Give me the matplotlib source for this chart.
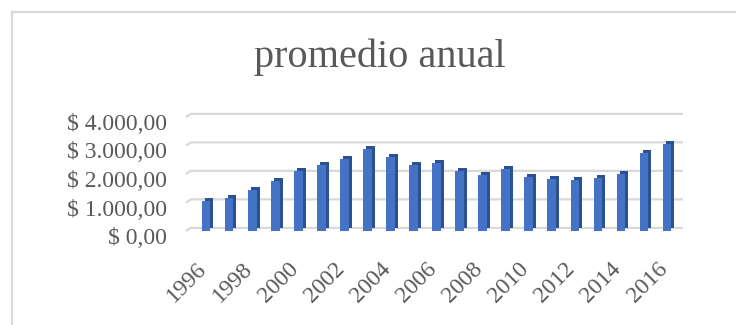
import matplotlib
matplotlib.use("Agg")
import matplotlib.pyplot as plt
import numpy as np
from matplotlib.lines import Line2D
from matplotlib.transforms import offset_copy, blended_transform_factory, ScaledTranslation

# Data
years = list(range(1996, 2017))
promedio = [1060, 1150, 1440, 1760, 2110, 2310, 2510, 2870, 2610, 2320, 2370,
            2090, 1970, 2170, 1890, 1840, 1790, 1860, 2000, 2750, 3050]
y_ticks = [0, 1000, 2000, 3000, 4000]
y_labels = ['$ 0,00', '$ 1.000,00', '$ 2.000,00', '$ 3.000,00', '$ 4.000,00']

plt.rcParams['font.family'] = ['Liberation Serif', 'DejaVu Serif']
gray_text = '#595959'
grid_color = '#d9d9d9'

W, H = 736, 325
fig = plt.figure(figsize=(W / 100, H / 100), dpi=100)
fig.patch.set_facecolor('white')

# chart frame (only top and left edges are visible)
fig.add_artist(Line2D([12 / W, 12 / W], [0, 1 - 12 / H], color=grid_color, lw=1.6))
fig.add_artist(Line2D([12 / W, 1], [1 - 12 / H, 1 - 12 / H], color=grid_color, lw=1.6))

# plot area
ax = fig.add_axes([186 / W, 94 / H, 497 / W, 114 / H])
x = np.arange(len(years))
ax.set_xlim(-0.87, 20.69)
ax.set_ylim(0, 4000)
for s in ax.spines.values():
    s.set_visible(False)

# back-wall gridlines with a short slanted floor edge on the left
rise = 110  # about 3 px in data units
gt = blended_transform_factory(ax.transAxes, ax.transData)
for t in y_ticks:
    ax.plot([0, 0.01, 1], [t, t + rise, t + rise], transform=gt,
            color=grid_color, lw=1.6, clip_on=False, zorder=1,
            solid_capstyle='butt')

# pseudo-3D bars: darker depth face behind, front face on top
depth = offset_copy(ax.transData, fig=fig, x=3, y=3, units='dots')
ax.bar(x, promedio, width=0.38, color='#2c5191', transform=depth, zorder=2)
ax.bar(x, promedio, width=0.38, color='#4472c4', zorder=3)

# y axis
ax.set_yticks(y_ticks)
ax.set_yticklabels(y_labels)
ax.tick_params(axis='y', length=0, pad=13.7, labelsize=17, labelcolor=gray_text)
for lab in ax.get_yticklabels():
    lab.set_transform(lab.get_transform() + ScaledTranslation(0, -5 / 100, fig.dpi_scale_trans))

# x axis, every second year
ax.set_xticks(x[::2])
ax.set_xticklabels([str(y) for y in years[::2]], rotation=45,
                   ha='right', va='center', rotation_mode='anchor')
ax.tick_params(axis='x', length=0, pad=25, labelsize=17, labelcolor=gray_text)
for lab in ax.get_xticklabels():
    lab.set_transform(lab.get_transform() + ScaledTranslation(-3 / 100, 0, fig.dpi_scale_trans))

# title
fig.text(380 / W, 1 - 67 / H, 'promedio anual', ha='center', va='baseline',
         fontsize=29, color=gray_text)

plt.savefig('out.png', dpi=100, facecolor='white')
